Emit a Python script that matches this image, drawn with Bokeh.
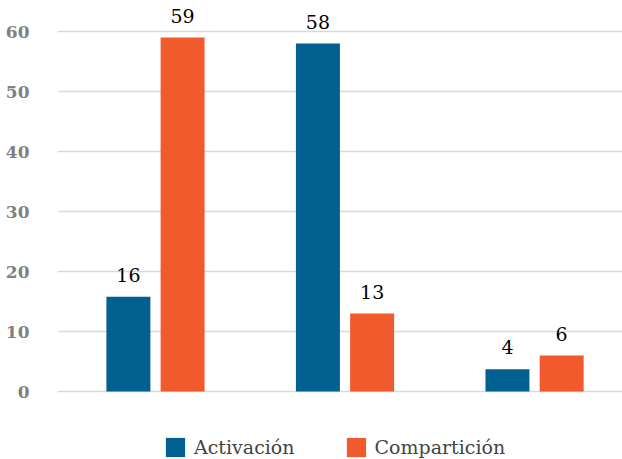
from bokeh.plotting import figure
from bokeh.models import Range1d, FixedTicker, ColumnDataSource, Legend, LegendItem
from bokeh.core.properties import value
from bokeh.embed import file_html
from bokeh.resources import INLINE

groups = [0, 1, 2]
activacion = [15.8, 58, 3.7]
comparticion = [59, 13, 6]
series_names = ["Activación", "Compartición"]
yticks = [0, 10, 20, 30, 40, 50, 60]

BLUE = "#01608F"
ORANGE = "#F05A2C"
FONT = "DejaVu Serif"

p = figure(width=622, height=459, output_backend="svg", toolbar_location=None,
           x_range=Range1d(-0.517, 2.464), y_range=Range1d(-11.33, 65.17),
           min_border_left=57, min_border_right=0, min_border_top=0, min_border_bottom=0)
p.outline_line_color = None
p.xaxis.visible = False
p.xgrid.visible = False
p.yaxis.ticker = FixedTicker(ticks=yticks)
p.ygrid.ticker = FixedTicker(ticks=yticks)
p.ygrid.grid_line_color = "#D9D9D9"
p.ygrid.grid_line_width = 1.5
p.yaxis.axis_line_color = None
p.yaxis.major_tick_line_color = None
p.yaxis.minor_tick_line_color = None
p.yaxis.major_label_standoff = 22
p.yaxis.major_label_text_font = FONT
p.yaxis.major_label_text_font_style = "bold"
p.yaxis.major_label_text_font_size = "17px"
p.yaxis.major_label_text_color = "#808080"

off = 0.143
w = 0.232
src_a = ColumnDataSource(dict(x=[g - off for g in groups], top=activacion,
                              lab=[str(round(v)) for v in activacion]))
src_c = ColumnDataSource(dict(x=[g + off for g in groups], top=comparticion,
                              lab=[str(round(v)) for v in comparticion]))
ra = p.vbar(x="x", top="top", width=w, source=src_a, fill_color=BLUE, line_color=None)
rc = p.vbar(x="x", top="top", width=w, source=src_c, fill_color=ORANGE, line_color=None)
for s in (src_a, src_c):
    p.text(x="x", y="top", text="lab", source=s, text_align="center",
           text_baseline="alphabetic", y_offset=-22, text_font=value(FONT),
           text_font_size="19px", text_color="#000000")

legend = Legend(items=[LegendItem(label=series_names[0], renderers=[ra]),
                       LegendItem(label=series_names[1], renderers=[rc])],
                orientation="horizontal", location=(106, 0),
                border_line_color=None, background_fill_alpha=0,
                glyph_width=24, glyph_height=24, label_text_font=FONT,
                label_text_font_size="19px", label_standoff=7, spacing=49,
                margin=0, padding=2, label_height=24)
p.add_layout(legend, "center")

open("out.html", "w").write(file_html(p, INLINE))
